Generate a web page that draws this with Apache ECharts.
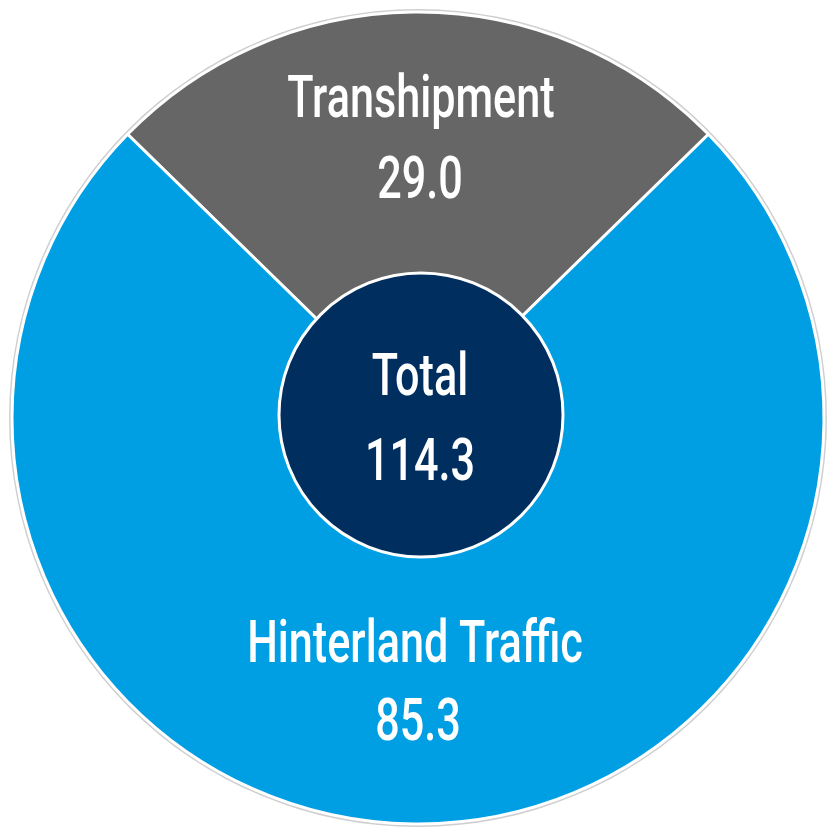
<!DOCTYPE html>
<html>
<head>
<meta charset="utf-8">
<script src="https://cdn.jsdelivr.net/npm/echarts@6/dist/echarts.min.js"></script>
<style>
  html, body { margin: 0; padding: 0; background: #fff; }
  #main { width: 827px; height: 829px; }
</style>
</head>
<body>
<div id="main"></div>
<script>
"use strict";
// slices, top one first
const categories = ['Transhipment', 'Hinterland Traffic'];
const values = [29.0, 85.3];
const sliceColors = ['#666666', '#009FE3'];
const totalLabel = 'Total';
const total = 114.3;

const chart = echarts.init(document.getElementById('main'));

// top slice is centred on 12 o'clock
const startAngle = 90 + (values[0] / total) * 360 / 2;

const FONT = 'Roboto, "DejaVu Sans Condensed", sans-serif';
const SX = 0.72;

function txt(text, x, y) {
    return {
        type: 'text',
        x: x,
        y: y,
        scaleX: SX,
        silent: true,
        z: 100,
        style: {
            text: text,
            fill: '#fff',
            fontFamily: FONT,
            fontSize: 60,
            fontWeight: 500,
            align: 'center',
            verticalAlign: 'middle'
        }
    };
}

let option = {
    animation: false,
    series: [
        {
            // faint outer rim
            type: 'pie',
            silent: true,
            center: [418, 418],
            radius: [406, 409],
            label: { show: false },
            itemStyle: { color: '#cfcfcf' },
            data: [total]
        },
        {
            type: 'pie',
            silent: true,
            center: [418, 418],
            radius: [0, 406],
            startAngle: startAngle,
            label: { show: false },
            itemStyle: { borderColor: '#fff', borderWidth: 3 },
            data: categories.map((c, i) => ({
                name: c,
                value: values[i],
                itemStyle: { color: sliceColors[i] }
            }))
        },
        {
            type: 'pie',
            silent: true,
            center: [421, 415],
            radius: [0, 142],
            label: { show: false },
            itemStyle: { color: '#002E5F', borderColor: '#fff', borderWidth: 3 },
            data: [{ name: totalLabel, value: total }]
        }
    ],
    graphic: [
        txt(categories[0], 421, 102),
        txt(values[0].toFixed(1), 420, 183),
        txt(totalLabel, 420, 380),
        txt(total.toFixed(1), 420, 465),
        txt(categories[1], 415, 647),
        txt(values[1].toFixed(1), 418, 725)
    ]
};

chart.setOption(option);
</script>
</body>
</html>
